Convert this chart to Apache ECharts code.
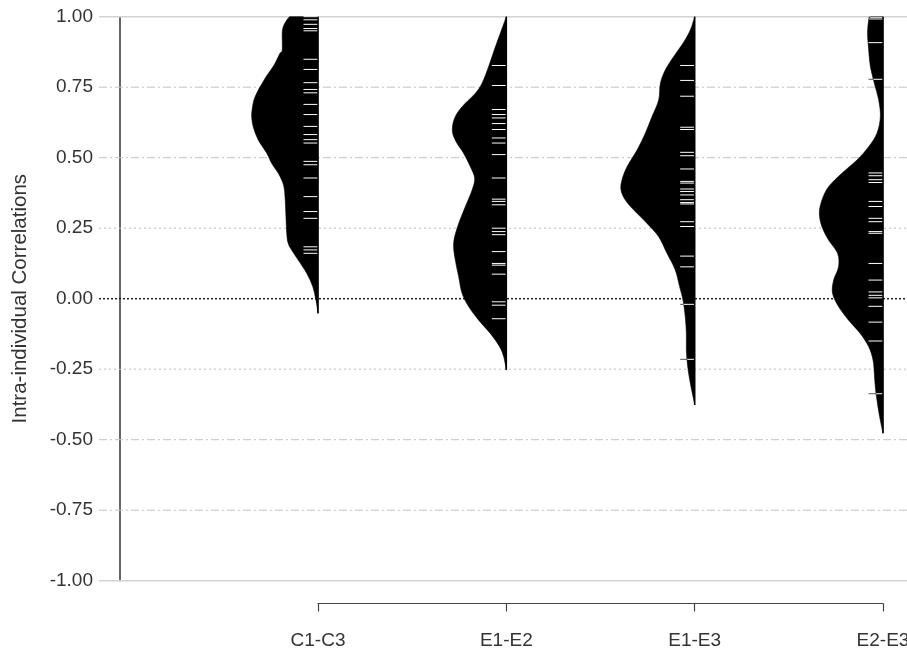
<!DOCTYPE html>
<html>
<head>
<meta charset="utf-8">
<script src="https://cdn.jsdelivr.net/npm/echarts@6/dist/echarts.min.js"></script>
<style>
html,body{margin:0;padding:0;background:#fff;}
#chart{width:907px;height:651px;}
</style>
</head>
<body>
<div id="chart"></div>
<script>
// ---- data ----
const categories = ['C1-C3', 'E1-E2', 'E1-E3', 'E2-E3'];
const catPos = [1, 2, 3, 4];
const yTicks = [-1, -0.75, -0.5, -0.25, 0, 0.25, 0.5, 0.75, 1];

// density outlines (y value, half-width in x-axis units)
const densY_C1C3 = [1.0, 0.988, 0.965, 0.941, 0.882, 0.87, 0.835, 0.811, 0.787, 0.764, 0.74, 0.705, 0.669, 0.645, 0.61, 0.563, 0.516, 0.48, 0.445, 0.421, 0.397, 0.35, 0.232, 0.196, 0.173, 0.137, 0.09, 0.043, -0.005, -0.052];
const densW_C1C3 = [0.151, 0.166, 0.184, 0.19, 0.19, 0.202, 0.228, 0.251, 0.276, 0.296, 0.317, 0.34, 0.35, 0.352, 0.344, 0.317, 0.272, 0.246, 0.211, 0.193, 0.181, 0.174, 0.166, 0.158, 0.14, 0.105, 0.06, 0.028, 0.011, 0];

const densY_E1E2 = [1.0, 0.941, 0.882, 0.823, 0.764, 0.728, 0.693, 0.657, 0.622, 0.587, 0.551, 0.516, 0.468, 0.427, 0.385, 0.326, 0.255, 0.196, 0.137, 0.078, 0.019, -0.028, -0.076, -0.123, -0.17, -0.206, -0.253];
const densW_E1E2 = [0, 0.032, 0.064, 0.094, 0.129, 0.165, 0.218, 0.262, 0.283, 0.285, 0.262, 0.227, 0.191, 0.168, 0.182, 0.218, 0.259, 0.28, 0.271, 0.253, 0.235, 0.2, 0.147, 0.085, 0.036, 0.014, 0];

const densY_E1E3 = [1.0, 0.953, 0.906, 0.858, 0.811, 0.764, 0.705, 0.645, 0.587, 0.527, 0.468, 0.421, 0.385, 0.35, 0.315, 0.267, 0.22, 0.161, 0.102, 0.043, -0.005, -0.064, -0.123, -0.182, -0.241, -0.3, -0.359, -0.377];
const densW_E1E3 = [0, 0.023, 0.062, 0.112, 0.156, 0.182, 0.191, 0.227, 0.262, 0.306, 0.359, 0.386, 0.391, 0.368, 0.324, 0.253, 0.191, 0.147, 0.103, 0.08, 0.062, 0.05, 0.044, 0.044, 0.037, 0.023, 0.005, 0];

const densY_E2E3 = [1.0, 0.988, 0.941, 0.882, 0.823, 0.764, 0.705, 0.645, 0.587, 0.539, 0.492, 0.445, 0.397, 0.35, 0.303, 0.255, 0.208, 0.161, 0.113, 0.066, 0.019, -0.028, -0.076, -0.123, -0.17, -0.217, -0.265, -0.312, -0.359, -0.418, -0.477];
const densW_E2E3 = [0.067, 0.076, 0.082, 0.076, 0.067, 0.046, 0.023, 0.014, 0.032, 0.076, 0.138, 0.218, 0.289, 0.324, 0.338, 0.324, 0.289, 0.241, 0.236, 0.262, 0.268, 0.236, 0.183, 0.121, 0.076, 0.053, 0.046, 0.041, 0.032, 0.018, 0];

// individual observations (bean lines)
const obs_C1C3 = [1.0, 0.989, 0.973, 0.958, 0.95, 0.849, 0.813, 0.766, 0.742, 0.73, 0.689, 0.653, 0.611, 0.582, 0.564, 0.552, 0.487, 0.475, 0.428, 0.362, 0.309, 0.285, 0.184, 0.173, 0.161];
const obs_E1E2 = [0.827, 0.756, 0.671, 0.653, 0.641, 0.621, 0.600, 0.570, 0.552, 0.511, 0.428, 0.353, 0.345, 0.333, 0.250, 0.238, 0.227, 0.167, 0.125, 0.119, 0.087, -0.011, -0.023, -0.071];
const obs_E1E3 = [0.827, 0.774, 0.718, 0.608, 0.600, 0.519, 0.507, 0.460, 0.416, 0.410, 0.389, 0.380, 0.368, 0.351, 0.341, 0.336, 0.273, 0.256, 0.151, 0.113, -0.020, -0.215];
const obs_E2E3 = [0.998, 0.992, 0.908, 0.778, 0.446, 0.436, 0.422, 0.412, 0.345, 0.327, 0.285, 0.273, 0.238, 0.232, 0.125, 0.066, 0.024, 0.012, 0.003, -0.027, -0.083, -0.150, -0.337];

// ---- build ----
const groups = [
  {y: densY_C1C3, w: densW_C1C3, obs: obs_C1C3},
  {y: densY_E1E2, w: densW_E1E2, obs: obs_E1E2},
  {y: densY_E1E3, w: densW_E1E3, obs: obs_E1E3},
  {y: densY_E2E3, w: densW_E2E3, obs: obs_E2E3}
];
const BEANLINE = 0.077;
const FONT = 'Liberation Sans, Arial, sans-serif';
const TXT = '#333';

function widthAt(g, v) {
  for (let i = 0; i < g.y.length - 1; i++) {
    const a = g.y[i], b = g.y[i + 1];
    if (v <= a && v >= b) {
      const t = (a - v) / (a - b);
      return g.w[i] + t * (g.w[i + 1] - g.w[i]);
    }
  }
  return 0;
}

// smooth outline path (Catmull-Rom -> cubic Bezier) through the density points
function smoothPath(pts, cxTop, cxBot) {
  let d = 'M' + cxTop[0] + ',' + cxTop[1] + 'L' + pts[0][0] + ',' + pts[0][1];
  for (let i = 0; i < pts.length - 1; i++) {
    const p0 = pts[Math.max(0, i - 1)], p1 = pts[i], p2 = pts[i + 1], p3 = pts[Math.min(pts.length - 1, i + 2)];
    const c1 = [p1[0] + (p2[0] - p0[0]) / 6, p1[1] + (p2[1] - p0[1]) / 6];
    const c2 = [p2[0] - (p3[0] - p1[0]) / 6, p2[1] - (p3[1] - p1[1]) / 6];
    d += 'C' + c1[0] + ',' + c1[1] + ',' + c2[0] + ',' + c2[1] + ',' + p2[0] + ',' + p2[1];
  }
  d += 'L' + cxBot[0] + ',' + cxBot[1] + 'Z';
  return d;
}

function renderBean(params, api) {
  const g = groups[params.dataIndex];
  const cx = api.value(0);
  const ch = [];
  // beanlines behind (visible outside the bean)
  g.obs.forEach(v => {
    const p1 = api.coord([cx - BEANLINE, v]), p2 = api.coord([cx, v]);
    ch.push({type: 'line', shape: {x1: p1[0], y1: p1[1], x2: p2[0], y2: p2[1]}, style: {stroke: '#555', lineWidth: 1}});
  });
  const pts = g.y.map((yv, i) => api.coord([cx - g.w[i], yv]));
  const top = api.coord([cx, g.y[0]]), bot = api.coord([cx, g.y[g.y.length - 1]]);
  ch.push({type: 'path', shape: {pathData: smoothPath(pts, top, bot)}, style: {fill: '#000', stroke: '#000', lineWidth: 0.6}});
  // white beanlines inside the bean
  g.obs.forEach(v => {
    const len = Math.min(BEANLINE, widthAt(g, v));
    const p1 = api.coord([cx - len, v]), p2 = api.coord([cx, v]);
    ch.push({type: 'line', shape: {x1: p1[0], y1: p1[1], x2: p2[0], y2: p2[1]}, style: {stroke: '#fff', lineWidth: 1}});
  });
  ch.push({type: 'line', shape: {x1: top[0], y1: top[1], x2: bot[0], y2: bot[1]}, style: {stroke: '#000', lineWidth: 1.5}});
  return {type: 'group', children: ch};
}

function gridStyle(v) {
  if (Math.abs(v) === 1) return {stroke: '#d2d2d2', lineWidth: 1.5};
  if (v === 0) return {stroke: '#222', lineWidth: 1.5, lineDash: [2, 2]};
  if (Math.abs(v) === 0.25) return {stroke: '#bdbdbd', lineWidth: 1, lineDash: [2, 3]};
  return {stroke: '#c4c4c4', lineWidth: 1, lineDash: [8, 3, 2, 3]};
}

function renderGridLine(params, api) {
  const v = api.value(1);
  const cs = params.coordSys;
  const py = api.coord([0, v])[1];
  return {type: 'line', shape: {x1: cs.x - 21, y1: py, x2: cs.x + cs.width, y2: py}, style: gridStyle(v)};
}

const chart = echarts.init(document.getElementById('chart'), null, {renderer: 'canvas'});
chart.setOption({
  animation: false,
  backgroundColor: '#fff',
  grid: [
    {left: 120, right: 0, top: 16.7, bottom: 70.3, containLabel: false, outerBoundsMode: 'none'},
    {left: 318, right: 24, top: 602.5, height: 1, containLabel: false, outerBoundsMode: 'none'}
  ],
  xAxis: [
    {gridIndex: 0, type: 'value', min: -0.0514, max: 4.1274, show: false},
    {gridIndex: 1, type: 'value', min: 1, max: 4, interval: 1, position: 'bottom',
      axisLine: {show: true, onZero: false, lineStyle: {color: '#444', width: 1.2}},
      axisTick: {show: true, inside: false, length: 8, lineStyle: {color: '#444', width: 1.2}},
      splitLine: {show: false},
      axisLabel: {margin: 28, fontSize: 19, fontFamily: FONT, color: TXT, hideOverlap: false,
        formatter: v => categories[catPos.indexOf(v)] || ''}}
  ],
  yAxis: [
    {gridIndex: 0, type: 'value', min: -1, max: 1, interval: 0.25,
      name: 'Intra-individual Correlations', nameLocation: 'middle', nameGap: 89, nameRotate: 90,
      nameTextStyle: {fontSize: 20.5, fontFamily: FONT, color: TXT},
      axisLine: {show: true, onZero: false, lineStyle: {color: '#333', width: 1.5}},
      axisTick: {show: false},
      splitLine: {show: false},
      axisLabel: {margin: 27, fontSize: 19, fontFamily: FONT, color: TXT, formatter: v => v.toFixed(2)}},
    {gridIndex: 1, type: 'value', show: false}
  ],
  series: [
    {type: 'custom', name: 'grid', xAxisIndex: 0, yAxisIndex: 0, z: 1, clip: false, silent: true,
      renderItem: renderGridLine, data: yTicks.map(v => [0, v]), encode: {x: 0, y: 1}},
    {type: 'custom', name: 'beans', xAxisIndex: 0, yAxisIndex: 0, z: 3, clip: false, silent: true,
      renderItem: renderBean, data: catPos.map(c => [c, 0]), encode: {x: 0, y: 1}}
  ]
});
</script>
</body>
</html>
